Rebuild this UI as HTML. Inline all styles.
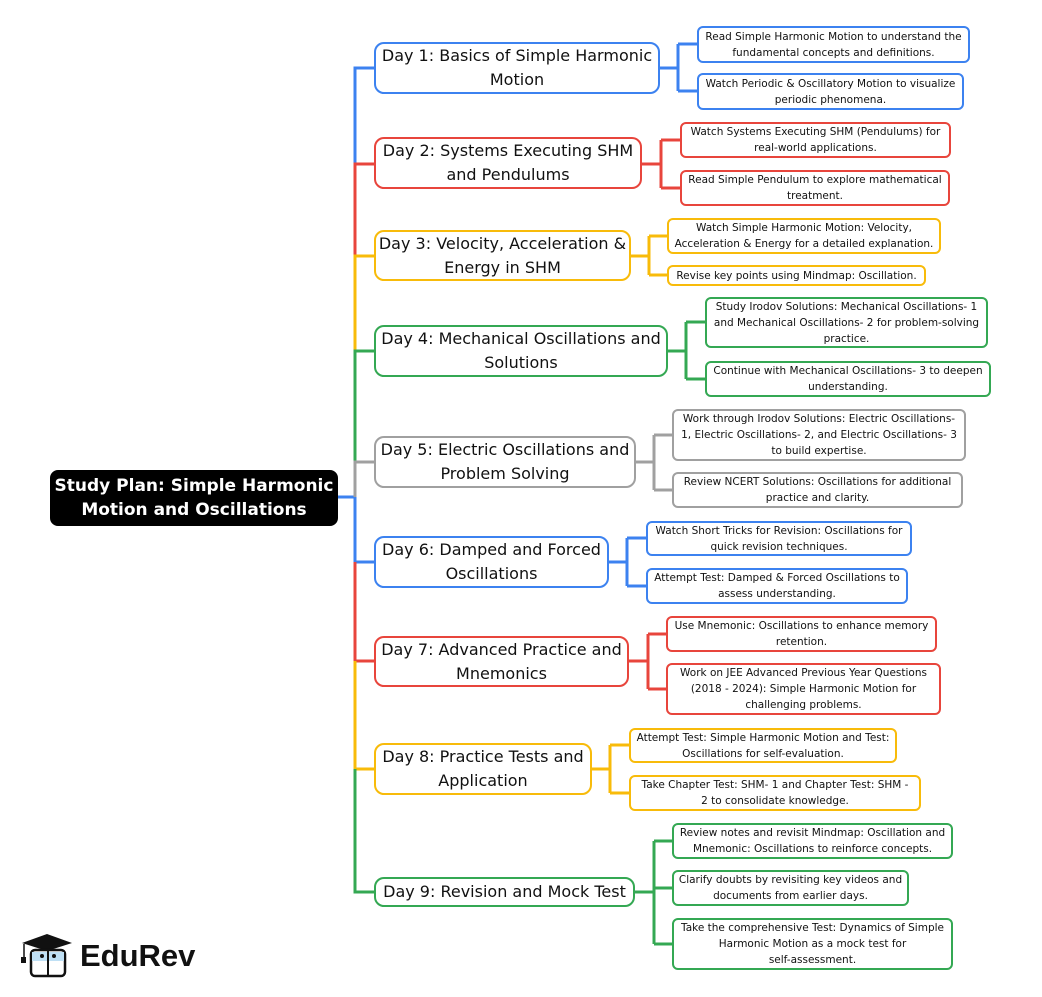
<!DOCTYPE html>
<html><head><meta charset="utf-8"><style>
body{margin:0;width:1042px;height:997px;background:#fff;position:relative;overflow:hidden;font-family:"DejaVu Sans","Liberation Sans",sans-serif}
.b{position:absolute;box-sizing:border-box;border:2px solid;border-radius:8px;background:#fff;display:flex;align-items:center;justify-content:center;text-align:center;color:#111}
.d{font-size:16px;line-height:24px;border-radius:10px}
.l{font-size:10.5px;line-height:16px;border-radius:6px;padding:0;white-space:nowrap}
.B{border-color:#3c82f0}.R{border-color:#e8453c}.Y{border-color:#f8bb0a}.G{border-color:#34a853}.S{border-color:#a0a0a0}
svg{position:absolute;left:0;top:0}
</style></head><body>
<svg width="1042" height="997" fill="none" stroke-width="3">
<path d="M338 497H355" stroke="#3c82f0"/>
<path d="M374 68H355V164" stroke="#3c82f0"/>
<path d="M374 164H355V256" stroke="#e8453c"/>
<path d="M374 256H355V351" stroke="#f8bb0a"/>
<path d="M374 351H355V462" stroke="#34a853"/>
<path d="M374 462H355V497" stroke="#a0a0a0"/>
<path d="M355 497V562H374" stroke="#3c82f0"/>
<path d="M355 562V661H374" stroke="#e8453c"/>
<path d="M355 661V769H374" stroke="#f8bb0a"/>
<path d="M355 769V892H374" stroke="#34a853"/>
<path d="M660 68H678M678 44V91M678 44H697M678 91H697" stroke="#3c82f0"/>
<path d="M642 164H661M661 140V188M661 140H680M661 188H680" stroke="#e8453c"/>
<path d="M631 256H649M649 236V275M649 236H667M649 275H667" stroke="#f8bb0a"/>
<path d="M668 351H686M686 322V379M686 322H705M686 379H705" stroke="#34a853"/>
<path d="M636 462H654M654 435V490M654 435H672M654 490H672" stroke="#a0a0a0"/>
<path d="M609 562H627M627 538V586M627 538H646M627 586H646" stroke="#3c82f0"/>
<path d="M629 661H648M648 634V689M648 634H666M648 689H666" stroke="#e8453c"/>
<path d="M592 769H610M610 745V793M610 745H629M610 793H629" stroke="#f8bb0a"/>
<path d="M635 892H654M654 841V944M654 841H672M654 888H672M654 944H672" stroke="#34a853"/>
</svg>
<div class="b" style="left:50px;top:470px;width:288px;height:56px;background:#000;border-color:#000;color:#fff;font-weight:bold;font-size:17px;line-height:24px;border-radius:8px">Study Plan: Simple Harmonic Motion and Oscillations</div>

<div class="b d B" style="left:374px;top:42px;width:286px;height:52px">Day 1: Basics of Simple Harmonic Motion</div>
<div class="b d R" style="left:374px;top:137px;width:268px;height:52px">Day 2: Systems Executing SHM and Pendulums</div>
<div class="b d Y" style="left:374px;top:230px;width:257px;height:51px">Day 3: Velocity, Acceleration &amp; Energy in SHM</div>
<div class="b d G" style="left:374px;top:325px;width:294px;height:52px">Day 4: Mechanical Oscillations and Solutions</div>
<div class="b d S" style="left:374px;top:436px;width:262px;height:52px">Day 5: Electric Oscillations and Problem Solving</div>
<div class="b d B" style="left:374px;top:536px;width:235px;height:52px">Day 6: Damped and Forced Oscillations</div>
<div class="b d R" style="left:374px;top:636px;width:255px;height:51px">Day 7: Advanced Practice and Mnemonics</div>
<div class="b d Y" style="left:374px;top:743px;width:218px;height:52px">Day 8: Practice Tests and Application</div>
<div class="b d G" style="left:374px;top:877px;width:261px;height:30px">Day 9: Revision and Mock Test</div>

<div class="b l B" style="left:697px;top:26px;width:273px;height:37px">Read Simple Harmonic Motion to understand the<br>fundamental concepts and definitions.</div>
<div class="b l B" style="left:697px;top:73px;width:267px;height:37px">Watch Periodic &amp; Oscillatory Motion to visualize<br>periodic phenomena.</div>
<div class="b l R" style="left:680px;top:122px;width:271px;height:36px">Watch Systems Executing SHM (Pendulums) for<br>real-world applications.</div>
<div class="b l R" style="left:680px;top:170px;width:270px;height:36px">Read Simple Pendulum to explore mathematical<br>treatment.</div>
<div class="b l Y" style="left:667px;top:218px;width:274px;height:36px">Watch Simple Harmonic Motion: Velocity,<br>Acceleration &amp; Energy for a detailed explanation.</div>
<div class="b l Y" style="left:667px;top:265px;width:259px;height:21px">Revise key points using Mindmap: Oscillation.</div>
<div class="b l G" style="left:705px;top:297px;width:283px;height:51px">Study Irodov Solutions: Mechanical Oscillations- 1<br>and Mechanical Oscillations- 2 for problem-solving<br>practice.</div>
<div class="b l G" style="left:705px;top:361px;width:286px;height:36px">Continue with Mechanical Oscillations- 3 to deepen<br>understanding.</div>
<div class="b l S" style="left:672px;top:409px;width:294px;height:52px">Work through Irodov Solutions: Electric Oscillations-<br>1, Electric Oscillations- 2, and Electric Oscillations- 3<br>to build expertise.</div>
<div class="b l S" style="left:672px;top:472px;width:291px;height:36px">Review NCERT Solutions: Oscillations for additional<br>practice and clarity.</div>
<div class="b l B" style="left:646px;top:521px;width:266px;height:35px">Watch Short Tricks for Revision: Oscillations for<br>quick revision techniques.</div>
<div class="b l B" style="left:646px;top:568px;width:262px;height:36px">Attempt Test: Damped &amp; Forced Oscillations to<br>assess understanding.</div>
<div class="b l R" style="left:666px;top:616px;width:271px;height:36px">Use Mnemonic: Oscillations to enhance memory<br>retention.</div>
<div class="b l R" style="left:666px;top:663px;width:275px;height:52px">Work on JEE Advanced Previous Year Questions<br>(2018 - 2024): Simple Harmonic Motion for<br>challenging problems.</div>
<div class="b l Y" style="left:629px;top:728px;width:268px;height:35px">Attempt Test: Simple Harmonic Motion and Test:<br>Oscillations for self-evaluation.</div>
<div class="b l Y" style="left:629px;top:775px;width:292px;height:36px">Take Chapter Test: SHM- 1 and Chapter Test: SHM -<br>2 to consolidate knowledge.</div>
<div class="b l G" style="left:672px;top:823px;width:281px;height:36px">Review notes and revisit Mindmap: Oscillation and<br>Mnemonic: Oscillations to reinforce concepts.</div>
<div class="b l G" style="left:672px;top:870px;width:237px;height:36px">Clarify doubts by revisiting key videos and<br>documents from earlier days.</div>
<div class="b l G" style="left:672px;top:918px;width:281px;height:52px">Take the comprehensive Test: Dynamics of Simple<br>Harmonic Motion as a mock test for<br>self-assessment.</div>

<svg width="1042" height="997" style="pointer-events:none">
<polygon points="22,943 47,934 72,943 47,951" fill="#111"/>
<path d="M24,944V958" stroke="#111" stroke-width="1.5"/>
<rect x="21" y="957" width="5" height="6" fill="#111"/>
<rect x="31" y="950" width="34" height="26" rx="4" fill="#fff" stroke="#111" stroke-width="2.5"/>
<rect x="32" y="952" width="32" height="9" fill="#bfe0f5"/>
<path d="M48,950V976" stroke="#111" stroke-width="2"/>
<circle cx="42" cy="956" r="2" fill="#111"/><circle cx="54" cy="956" r="2" fill="#111"/>
</svg>
<div style="position:absolute;left:80px;top:938px;font-family:'Liberation Sans',sans-serif;font-weight:bold;font-size:31px;color:#111">EduRev</div>
</body></html>
